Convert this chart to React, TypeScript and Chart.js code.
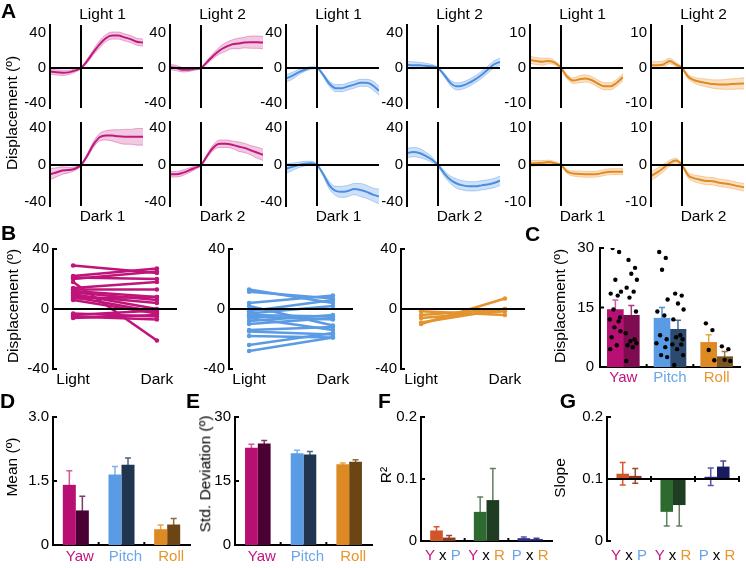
import { useEffect, useRef } from 'react';
import { Chart, registerables } from 'chart.js';

Chart.register(...registerables);

const FONT = '"Liberation Sans", Arial, Helvetica, sans-serif';

// ================= DATA =================
// Panel A: time (s) and mean / SEM of displacement
const timeA = [-1, -0.8, -0.6, -0.4, -0.2, 0, 0.2, 0.4, 0.6, 0.8, 1.0, 1.2, 1.4, 1.6, 1.8, 2.0];

const yawLight1 = [-4, -5, -5.5, -5, -3, 0, 8, 18, 27, 34, 37, 37, 35, 33, 30, 29];
const yawLight1Sem = [3, 3, 3, 2.5, 2, 1, 2, 3, 4, 4, 4, 4, 4, 4, 4, 4];
const yawLight2 = [1, 0, -2, -2, -1, 0, 7, 14, 20, 24, 27, 28, 29, 29.5, 29.5, 29];
const yawLight2Sem = [3, 3, 2.5, 2, 1.5, 1, 2, 3, 4, 5, 5, 6, 6, 7, 7, 7];
const pitchLight1 = [-12, -9, -5, -2, 0, 0, -8, -18, -23, -23, -21, -19, -17, -17, -20, -26];
const pitchLight1Sem = [4, 4, 3, 2, 1.5, 1, 2, 3, 4, 4, 4, 4, 4, 4, 5, 5];
const pitchLight2 = [3.5, 3, 3, 2.5, 2, 0, -8, -17, -21, -20, -17, -13, -8, -2, 4, 7];
const pitchLight2Sem = [4, 4, 3.5, 3, 2, 1, 2, 3, 4, 4, 4, 4, 4, 4, 4, 4];
const rollLight1 = [2.3, 2, 1.8, 2, 1.5, 0, -2.5, -3.6, -3.2, -3.0, -3.5, -4.5, -5.2, -5.2, -4.2, -2.6];
const rollLight1Sem = [1, 1, 1, 0.8, 0.6, 0.3, 0.6, 0.8, 1, 1, 1, 1, 1, 1, 1, 1];
const rollLight2 = [0.8, 0.8, 1, 2, 1, 0, -2.5, -3.5, -4, -4.3, -4.6, -4.7, -4.7, -4.6, -4.5, -4.4];
const rollLight2Sem = [1, 1, 1, 0.8, 0.6, 0.3, 0.6, 0.8, 1, 1.1, 1.2, 1.3, 1.4, 1.5, 1.5, 1.6];

const yawDark1 = [-10, -8, -6, -5.5, -4, 0, 10, 22, 30, 32, 32, 31, 30.5, 30.5, 30.5, 30.5];
const yawDark1Sem = [6, 5, 4, 3, 2, 1, 2, 3, 4, 5, 6, 7, 8, 8, 9, 9];
const yawDark2 = [-10, -10, -8.5, -6, -3, 0, 10, 19, 23, 23, 22, 20, 18.5, 16, 13.5, 11];
const yawDark2Sem = [3, 3, 3, 2.5, 2, 1, 2, 3, 4, 4, 4, 5, 5, 5, 6, 6];
const pitchDark1 = [-4, -2, 0, 1.5, 2, 0, -10, -22, -28, -29, -28, -26, -27, -29, -32, -34];
const pitchDark1Sem = [5, 4, 3, 2.5, 2, 1, 2, 4, 5, 6, 6, 6, 7, 7, 7, 8];
const pitchDark2 = [13, 14, 13, 10, 6, 0, -9, -16, -20, -22, -23, -23, -22, -21, -19.5, -17];
const pitchDark2Sem = [5, 5, 5, 4, 3, 1, 3, 4, 5, 5, 5, 5, 5, 5, 5, 5];
const rollDark1 = [0.4, 0.5, 0.6, 0.8, 0.5, 0, -1.8, -2.3, -2.4, -2.5, -2.5, -2.4, -2.0, -1.8, -1.8, -1.8];
const rollDark1Sem = [0.8, 0.7, 0.6, 0.5, 0.4, 0.2, 0.5, 0.7, 0.8, 0.8, 0.8, 0.8, 0.8, 0.8, 0.8, 0.8];
const rollDark2 = [-3, -2, -0.8, 0.5, 1.2, 0, -2.8, -3.6, -4, -4.3, -4.4, -4.8, -5, -5.3, -5.7, -6];
const rollDark2Sem = [1.2, 1.1, 1, 0.8, 0.6, 0.3, 0.7, 0.9, 1, 1, 1, 1, 1, 1, 1, 1];

const titlesTopA = ['Light 1', 'Light 2', 'Light 1', 'Light 2', 'Light 1', 'Light 2'];
const titlesBottomA = ['Dark 1', 'Dark 2', 'Dark 1', 'Dark 2', 'Dark 1', 'Dark 2'];
const ticksA = [-40, 0, 40];
const ticksARoll = [-10, 0, 10];

// Panel B: paired light / dark displacement per fish
const conditionLabels = ['Light', 'Dark'];
const yawLightB = [29, 22, 21, 20, 18, 14, 13, 12, 11, 10, 9, 8, 7, 6, -3, -4, -5, -6];
const yawDarkB = [24, 27, 20, 25, -21, 18, 13, 8, 6, 0, 4, -2, 8, -3, -5, -1, -7, -4];
const pitchLightB = [13, 11.5, 4, 2, -1.5, -3, -4, -5, -6, -8, -10, -14, -15, -18, -24, -28];
const pitchDarkB = [4, 7, 9, -11, 6, 2, -5, -7, -14, -4, -6, -12, -17, -19, -16, -19];
const rollLightB = [-1.5, -4, -6, -9, -10];
const rollDarkB = [-4, 0, -1.5, 0, 7];
const ticksB = [-40, 0, 40];

// Panel C
const axisNames = ['Yaw', 'Pitch', 'Roll'];
const dispLight = [14.5, 12.3, 6.2];
const dispLightErr = [2.4, 2.7, 1.9];
const dispDark = [13.0, 9.5, 2.6];
const dispDarkErr = [2.5, 2.3, 1.3];
const dotsYawLight = [30, 29, 22, 19, 18.5, 18, 14.5, 12.5, 12, 11.5, 10, 9, 7.5, 5.5, 4.5];
const dotsYawDark = [27, 25, 23.5, 22, 20, 19, 17.5, 14, 8.5, 7, 6.5, 6, 5.5, 5, 1.5];
const dotsPitchLight = [29, 27.5, 24.5, 17, 14, 13, 8, 7, 6, 5, 3, 2.5];
const dotsPitchDark = [18.5, 18, 16, 14.5, 12, 8, 7.5, 7, 5.7, 5.7, 4.5, 3, 0.5];
const dotsRollLight = [11, 9.3, 4.3, 1.7];
const dotsRollDark = [5.2, 4.5, 1.8, 1.5];
const dotJitter = [-0.06, 0.08, 0.0, 0.12, -0.1, 0.05, -0.04, 0.1, -0.12, 0.07, -0.02, 0.11, -0.08, 0.03, -0.11];
const ticksC = [0, 15, 30];

// Panel D
const meanLight = [1.41, 1.65, 0.37];
const meanLightErr = [0.33, 0.19, 0.1];
const meanDark = [0.81, 1.88, 0.48];
const meanDarkErr = [0.33, 0.16, 0.14];
const ticksD = [0, 1.5, 3];
const tickLabelsD = ['0', '1.5', '3.0'];

// Panel E
const sdLight = [22.8, 21.5, 18.9];
const sdLightErr = [0.8, 0.7, 0.3];
const sdDark = [23.8, 21.2, 19.5];
const sdDarkErr = [0.7, 0.7, 0.5];
const ticksE = [0, 15, 30];

// Panel F / G
const pairNames = [['Y', 'P'], ['Y', 'R'], ['P', 'R']];
const r2Light = [0.017, 0.047, 0.0045];
const r2LightErr = [0.006, 0.024, 0.002];
const r2Dark = [0.0055, 0.066, 0.003];
const r2DarkErr = [0.0032, 0.051, 0.0015];
const slopeBase = 0.1;
const slopeLight = [0.1085, 0.047, 0.1036];
const slopeLightErr = [0.018, 0.023, 0.014];
const slopeDark = [0.105, 0.058, 0.12];
const slopeDarkErr = [0.012, 0.034, 0.009];
const ticksFG = [0, 0.1, 0.2];
const tickLabelsFG = ['0', '0.1', '0.2'];

// ================= STYLES =================
const TXT_YAW = '#C0157F';
const TXT_PITCH = '#6AA5EA';
const TXT_ROLL = '#E8952C';
const letterColors: Record<string, string> = { Y: TXT_YAW, P: TXT_PITCH, R: TXT_ROLL };
const axisTextColors = [TXT_YAW, TXT_PITCH, TXT_ROLL];

const A_COLORS: Record<string, { line: string; band: string; edge: string }> = {
  yaw: { line: '#C2177F', band: 'rgba(214, 90, 165, 0.33)', edge: 'rgba(214, 90, 165, 0.5)' },
  pitch: { line: '#4A8EDF', band: 'rgba(110, 165, 235, 0.33)', edge: 'rgba(110, 165, 235, 0.5)' },
  roll: { line: '#E08A22', band: 'rgba(240, 165, 80, 0.33)', edge: 'rgba(240, 165, 80, 0.5)' },
};
const B_COLORS = { yaw: '#BF1479', pitch: '#5B9BE4', roll: '#E3942F' };

const barLightC = ['#B80F72', '#5A9BE6', '#DE8A24'];
const barDarkC = ['#7D0C50', '#2B4A6E', '#7B551F'];
const errLightC = ['#D65AA0', '#4C8FDE', '#E9A448'];
const errDarkC = ['#A53C7C', '#4A6A90', '#9C7638'];
const barDarkDE = ['#4B0034', '#1F3550', '#6B4514'];
const errLightDE = ['#D35A9D', '#7EB2EC', '#E9A448'];
const errDarkDE = ['#7B3B63', '#4D6480', '#8D6D3D'];
const barLightFG = ['#D2552A', '#2E6A30', '#29298C'];
const barDarkFG = ['#8C3A1F', '#1E3D22', '#1A1A60'];
const errLightFG = ['#D9572C', '#5F7F5F', '#5555AA'];
const errDarkFG = ['#9C4A30', '#5F7F5F', '#4545A0'];

// ================= LAYOUT =================
type Area = { l: number; t: number; r: number; b: number };
const PAD_T = 16;
const PAD_R = 4;
const YW = 40;
const colLeftA = [50, 170, 286, 407, 530, 651];
const widthA = 93;
const rowTopA = [25, 122];
const rowBottomA = [108, 206];
const rowRangeA = [[-45.7, 49.1], [-44.3, 46.5]];
const groupBounds = [0.5, 1.5];

// ================= PLUGIN =================
type ErrSpec = { ds: number; vals: number[]; errs: number[]; colors: string[]; both?: boolean };
type Deco = {
  zeroY?: number; vX?: number; leftLine?: boolean; inTicks?: number[]; xBounds?: number[];
  baseY?: number; err?: ErrSpec[]; multi?: string[][]; multiDy?: number;
};

function deco(d: Deco) {
  return {
    id: 'deco',
    beforeDatasetsDraw(chart: any) {
      const ctx = chart.ctx;
      const ys = chart.scales.y;
      for (const e of d.err || []) {
        const meta = chart.getDatasetMeta(e.ds);
        meta.data.forEach((el: any, j: number) => {
          const x = el.x;
          const y1 = ys.getPixelForValue(e.vals[j] + e.errs[j]);
          const y2 = ys.getPixelForValue(e.vals[j] - e.errs[j]);
          ctx.save();
          ctx.strokeStyle = e.colors[j];
          ctx.lineWidth = 1.5;
          ctx.beginPath();
          ctx.moveTo(x, y1); ctx.lineTo(x, y2);
          ctx.moveTo(x - 3, y1); ctx.lineTo(x + 3, y1);
          if (e.both) { ctx.moveTo(x - 3, y2); ctx.lineTo(x + 3, y2); }
          ctx.stroke();
          ctx.restore();
        });
      }
    },
    afterDatasetsDraw(chart: any) {
      const ctx = chart.ctx;
      const a = chart.chartArea;
      const xs = chart.scales.x;
      const ys = chart.scales.y;
      ctx.save();
      ctx.strokeStyle = '#000';
      ctx.lineWidth = 2;
      const line = (x1: number, y1: number, x2: number, y2: number) => {
        ctx.beginPath(); ctx.moveTo(x1, y1); ctx.lineTo(x2, y2); ctx.stroke();
      };
      if (d.zeroY !== undefined) { const y = ys.getPixelForValue(d.zeroY); line(a.left, y, a.right, y); }
      if (d.vX !== undefined) { const x = xs.getPixelForValue(d.vX); line(x, a.top, x, a.bottom); }
      if (d.leftLine) line(a.left, a.top, a.left, a.bottom);
      for (const v of d.inTicks || []) { const y = ys.getPixelForValue(v); line(a.left, y, a.left + 4, y); }
      if (d.xBounds && d.baseY === undefined) {
        d.xBounds.forEach((v) => { const x = xs.getPixelForValue(v); line(x, a.bottom, x, a.bottom - 3); });
      }
      if (d.baseY !== undefined) {
        const y = ys.getPixelForValue(d.baseY);
        line(a.left, y, a.right, y);
        const bx = (d.xBounds || []).map((v) => xs.getPixelForValue(v));
        bx.push(a.right);
        bx.forEach((x) => line(x, y - 3, x, y + 3));
      }
      if (d.multi) {
        ctx.font = `15px ${FONT}`;
        ctx.textBaseline = 'middle';
        ctx.textAlign = 'left';
        d.multi.forEach((pair, i) => {
          const parts = [pair[0], ' x ', pair[1]];
          const cols = [letterColors[pair[0]], '#000', letterColors[pair[1]]];
          const widths = parts.map((p) => ctx.measureText(p).width);
          let x = xs.getPixelForValue(i) - widths.reduce((s, w) => s + w, 0) / 2;
          const y = a.bottom + (d.multiDy || 15);
          parts.forEach((p, k) => { ctx.fillStyle = cols[k]; ctx.fillText(p, x, y); x += widths[k]; });
        });
      }
      ctx.restore();
    },
  };
}

// ================= HELPERS =================
function baseOptions(pb: number) {
  return {
    responsive: false,
    maintainAspectRatio: false,
    animation: false,
    events: [],
    layout: { padding: { top: PAD_T, right: PAD_R, bottom: pb, left: 0 } },
    plugins: { legend: { display: false }, tooltip: { enabled: false }, title: { display: false } },
  };
}

function yScale(min: number, max: number, ticks: number[], labels: string[], pad = 4) {
  return {
    type: 'linear',
    position: 'left',
    min,
    max,
    afterBuildTicks: (s: any) => { s.ticks = ticks.map((v) => ({ value: v })); },
    afterFit: (s: any) => { s.width = YW; },
    grid: { display: false, drawTicks: false, tickLength: 0 },
    border: { display: true, color: '#000', width: 2 },
    ticks: { padding: pad, color: '#000', font: { size: 15, family: FONT }, callback: (_v: any, i: number) => labels[i] },
  };
}

function xCat(xh: number, pad: number, labelOffset: number, showLabels: boolean, border: boolean) {
  return {
    type: 'category',
    offset: true,
    afterFit: (s: any) => { s.height = xh; },
    grid: { display: false, offset: true, drawTicks: false, tickLength: 0 },
    border: { display: border, color: '#000', width: 2 },
    ticks: {
      display: showLabels, padding: pad, labelOffset, color: axisTextColors,
      font: { size: 15, family: FONT }, maxRotation: 0, minRotation: 0, autoSkip: false,
    },
  };
}

type Spec = { area: Area; xh: number; pb: number; make: () => any };

function specA(mean: number[], sem: number[], kind: string, row: number, col: number): Spec {
  const area = { l: colLeftA[col], t: rowTopA[row], r: colLeftA[col] + widthA, b: rowBottomA[row] };
  return {
    area, xh: 0, pb: 16,
    make: () => {
      const c = A_COLORS[kind];
      const f = kind === 'roll' ? 0.25 : 1;
      const [mn, mx] = rowRangeA[row];
      const pts = (arr: number[]) => arr.map((v, i) => ({ x: timeA[i], y: v }));
      const upper = mean.map((v, i) => v + sem[i]);
      const lower = mean.map((v, i) => v - sem[i]);
      const tk = kind === 'roll' ? ticksARoll : ticksA;
      const common = { pointRadius: 0, cubicInterpolationMode: 'monotone' };
      return {
        type: 'line',
        data: {
          datasets: [
            { data: pts(mean), borderColor: c.line, borderWidth: 2, fill: false, ...common },
            { data: pts(upper), borderColor: c.edge, borderWidth: 1, fill: '+1', backgroundColor: c.band, ...common },
            { data: pts(lower), borderColor: c.edge, borderWidth: 1, fill: false, ...common },
          ],
        },
        options: {
          ...baseOptions(16),
          scales: {
            x: { type: 'linear', min: -1, max: 2, display: false },
            y: yScale(mn * f, mx * f, tk, tk.map(String)),
          },
        },
        plugins: [deco({ zeroY: 0, vX: 0, leftLine: true })],
      };
    },
  };
}

function specB(light: number[], dark: number[], color: string, left: number): Spec {
  const area = { l: left, t: 249, r: left + 124, b: 369 };
  return {
    area, xh: 30, pb: 2,
    make: () => ({
      type: 'scatter',
      data: {
        datasets: light.map((v, i) => ({
          data: [{ x: 0, y: v }, { x: 1, y: dark[i] }],
          showLine: true, borderColor: color, backgroundColor: color, borderWidth: 2.6,
          pointRadius: 2.3, pointBorderWidth: 0,
        })),
      },
      options: {
        ...baseOptions(2),
        scales: {
          x: {
            type: 'linear', min: -0.24, max: 1.24,
            afterBuildTicks: (s: any) => { s.ticks = [{ value: 0 }, { value: 1 }]; },
            afterFit: (s: any) => { s.height = 30; },
            grid: { display: false, drawTicks: false, tickLength: 0 },
            border: { display: false },
            ticks: { padding: 1.5, maxRotation: 0, minRotation: 0, color: '#000', font: { size: 15.5, family: FONT }, callback: (_v: any, i: number) => conditionLabels[i] },
          },
          y: yScale(-40, 40, ticksB, ticksB.map(String)),
        },
      },
      plugins: [deco({ zeroY: 0, inTicks: ticksB })],
    }),
  };
}

const specC: Spec = {
  area: { l: 600, t: 248, r: 740, b: 367 }, xh: 30, pb: 2,
  make: () => {
    const off = 0.171;
    const groups = [
      [dotsYawLight, dotsYawDark],
      [dotsPitchLight, dotsPitchDark],
      [dotsRollLight, dotsRollDark],
    ];
    const dots: { x: number; y: number }[] = [];
    groups.forEach((pair, g) => {
      pair.forEach((arr, s) => {
        arr.forEach((v, k) => dots.push({ x: g + (s === 0 ? -off : off) + dotJitter[k % dotJitter.length], y: v }));
      });
    });
    return {
      type: 'bar',
      data: {
        datasets: [
          { type: 'scatter', data: dots, pointRadius: 2.2, backgroundColor: '#000', borderWidth: 0, order: -1 },
          { type: 'bar', data: dispLight.map((v, g) => ({ x: g - off, y: v })), backgroundColor: barLightC, barThickness: 16, grouped: false, borderWidth: 0, order: 1 },
          { type: 'bar', data: dispDark.map((v, g) => ({ x: g + off, y: v })), backgroundColor: barDarkC, barThickness: 16, grouped: false, borderWidth: 0, order: 1 },
        ],
      },
      options: {
        ...baseOptions(2),
        scales: {
          x: {
            type: 'linear', min: -0.5, max: 2.5, offset: false,
            afterBuildTicks: (s: any) => { s.ticks = axisNames.map((_n, i) => ({ value: i })); },
            afterFit: (s: any) => { s.height = 30; },
            grid: { display: false, offset: false, drawTicks: false, tickLength: 0 },
            border: { display: true, color: '#000', width: 2 },
            ticks: { padding: 1.5, maxRotation: 0, minRotation: 0, autoSkip: false, color: axisTextColors, font: { size: 15, family: FONT }, callback: (_v: any, i: number) => axisNames[i] },
          },
          y: yScale(0, 30, ticksC, ticksC.map(String), 6),
        },
      },
      plugins: [deco({
        inTicks: ticksC, xBounds: groupBounds,
        err: [
          { ds: 1, vals: dispLight, errs: dispLightErr, colors: errLightC },
          { ds: 2, vals: dispDark, errs: dispDarkErr, colors: errDarkC },
        ],
      })],
    };
  },
};

function specBars(area: Area, light: number[], lightErr: number[], dark: number[], darkErr: number[],
  barDark: string[], errDark: string[], ticks: number[], labels: string[], max: number, cp: number, labelOffset: number): Spec {
  return {
    area, xh: 30, pb: 2,
    make: () => ({
      type: 'bar',
      data: {
        labels: axisNames,
        datasets: [
          { data: light, backgroundColor: barLightC, categoryPercentage: cp, barPercentage: 1, borderWidth: 0 },
          { data: dark, backgroundColor: barDark, categoryPercentage: cp, barPercentage: 1, borderWidth: 0 },
        ],
      },
      options: {
        ...baseOptions(2),
        scales: { x: xCat(30, 2.7, labelOffset, true, true), y: yScale(0, max, ticks, labels) },
      },
      plugins: [deco({
        inTicks: ticks, xBounds: groupBounds,
        err: [
          { ds: 0, vals: light, errs: lightErr, colors: errLightDE },
          { ds: 1, vals: dark, errs: darkErr, colors: errDark },
        ],
      })],
    }),
  };
}

const specF: Spec = {
  area: { l: 421, t: 417, r: 552, b: 541 }, xh: 30, pb: 2,
  make: () => ({
    type: 'bar',
    data: {
      labels: pairNames.map((p) => p.join('x')),
      datasets: [
        { data: r2Light, backgroundColor: barLightFG, categoryPercentage: 0.58, barPercentage: 1, borderWidth: 0 },
        { data: r2Dark, backgroundColor: barDarkFG, categoryPercentage: 0.58, barPercentage: 1, borderWidth: 0 },
      ],
    },
    options: {
      ...baseOptions(2),
      scales: { x: xCat(30, 2, 0, false, true), y: yScale(0, 0.2, ticksFG, tickLabelsFG) },
    },
    plugins: [deco({
      inTicks: ticksFG, xBounds: groupBounds, multi: pairNames, multiDy: 15,
      err: [
        { ds: 0, vals: r2Light, errs: r2LightErr, colors: errLightFG },
        { ds: 1, vals: r2Dark, errs: r2DarkErr, colors: errDarkFG },
      ],
    })],
  }),
};

const specG: Spec = {
  area: { l: 607, t: 417, r: 739, b: 541 }, xh: 30, pb: 2,
  make: () => ({
    type: 'bar',
    data: {
      labels: pairNames.map((p) => p.join('x')),
      datasets: [
        { data: slopeLight.map((v) => [slopeBase, v]), backgroundColor: barLightFG, categoryPercentage: 0.57, barPercentage: 1, borderWidth: 0 },
        { data: slopeDark.map((v) => [slopeBase, v]), backgroundColor: barDarkFG, categoryPercentage: 0.57, barPercentage: 1, borderWidth: 0 },
      ],
    },
    options: {
      ...baseOptions(2),
      scales: { x: xCat(30, 2, 0, false, false), y: yScale(0, 0.2, ticksFG, tickLabelsFG) },
    },
    plugins: [deco({
      inTicks: ticksFG, baseY: slopeBase, xBounds: groupBounds, multi: pairNames, multiDy: 15,
      err: [
        { ds: 0, vals: slopeLight, errs: slopeLightErr, colors: errLightFG, both: true },
        { ds: 1, vals: slopeDark, errs: slopeDarkErr, colors: errDarkFG, both: true },
      ],
    })],
  }),
};

const SPECS: Spec[] = [
  specA(yawLight1, yawLight1Sem, 'yaw', 0, 0),
  specA(yawLight2, yawLight2Sem, 'yaw', 0, 1),
  specA(pitchLight1, pitchLight1Sem, 'pitch', 0, 2),
  specA(pitchLight2, pitchLight2Sem, 'pitch', 0, 3),
  specA(rollLight1, rollLight1Sem, 'roll', 0, 4),
  specA(rollLight2, rollLight2Sem, 'roll', 0, 5),
  specA(yawDark1, yawDark1Sem, 'yaw', 1, 0),
  specA(yawDark2, yawDark2Sem, 'yaw', 1, 1),
  specA(pitchDark1, pitchDark1Sem, 'pitch', 1, 2),
  specA(pitchDark2, pitchDark2Sem, 'pitch', 1, 3),
  specA(rollDark1, rollDark1Sem, 'roll', 1, 4),
  specA(rollDark2, rollDark2Sem, 'roll', 1, 5),
  specB(yawLightB, yawDarkB, B_COLORS.yaw, 53),
  specB(pitchLightB, pitchDarkB, B_COLORS.pitch, 229),
  specB(rollLightB, rollDarkB, B_COLORS.roll, 401),
  specC,
  specBars({ l: 53, t: 417, r: 190, b: 545 }, meanLight, meanLightErr, meanDark, meanDarkErr, barDarkDE, errDarkDE, ticksD, tickLabelsD, 3, 0.57, 4),
  specBars({ l: 235, t: 417, r: 372, b: 545 }, sdLight, sdLightErr, sdDark, sdDarkErr, barDarkDE, errDarkDE, ticksE, ticksE.map(String), 30, 0.56, 4),
  specF,
  specG,
];

function frameOf(s: Spec) {
  const a = s.area;
  return {
    left: a.l - YW,
    top: a.t - PAD_T,
    width: YW + (a.r - a.l) + PAD_R,
    height: PAD_T + (a.b - a.t) + s.xh + s.pb,
  };
}

type TextSpec = { x: number; y: number; s: string; size?: number; bold?: boolean; rot?: boolean };
const TEXTS: TextSpec[] = [
  { x: 8.5, y: 9.5, s: 'A', size: 21, bold: true },
  { x: 8.5, y: 232, s: 'B', size: 21, bold: true },
  { x: 532.5, y: 233, s: 'C', size: 21, bold: true },
  { x: 7.5, y: 400, s: 'D', size: 21, bold: true },
  { x: 193, y: 400, s: 'E', size: 21, bold: true },
  { x: 384.5, y: 400, s: 'F', size: 21, bold: true },
  { x: 568, y: 400, s: 'G', size: 21, bold: true },
  { x: 12, y: 113, s: 'Displacement (º)', size: 15.5, rot: true },
  { x: 12.5, y: 306, s: 'Displacement (º)', size: 15.5, rot: true },
  { x: 559.5, y: 306, s: 'Displacement (º)', size: 15.5, rot: true },
  { x: 12, y: 466.5, s: 'Mean (º)', size: 15.5, rot: true },
  { x: 204.8, y: 474, s: 'Std. Deviation (º)', size: 15.5, rot: true },
  { x: 385.5, y: 475, s: 'R²', size: 15.5, rot: true },
  { x: 559.5, y: 478, s: 'Slope', size: 15.5, rot: true },
  ...titlesTopA.map((t, i) => ({ x: colLeftA[i] + widthA / 2 + 6, y: 13.5, s: t, size: 15.5 })),
  ...titlesBottomA.map((t, i) => ({ x: colLeftA[i] + widthA / 2 + 6, y: 215.5, s: t, size: 15.5 })),
];

export default function App() {
  const refs = useRef<(HTMLCanvasElement | null)[]>([]);
  useEffect(() => {
    const charts = SPECS.map((s, i) => new Chart(refs.current[i] as HTMLCanvasElement, s.make()));
    return () => charts.forEach((c) => c.destroy());
  }, []);
  return (
    <div style={{ position: 'absolute', left: 0, top: 0, width: 746, height: 568, background: '#fff', overflow: 'hidden', fontFamily: FONT }}>
      {SPECS.map((s, i) => {
        const f = frameOf(s);
        return (
          <canvas
            key={i}
            ref={(el) => { refs.current[i] = el; }}
            width={f.width}
            height={f.height}
            style={{ position: 'absolute', left: f.left, top: f.top, width: f.width, height: f.height }}
          />
        );
      })}
      {TEXTS.map((t, i) => (
        <div
          key={'t' + i}
          style={{
            position: 'absolute', left: t.x, top: t.y,
            transform: `translate(-50%, -50%)${t.rot ? ' rotate(-90deg)' : ''}`,
            fontSize: t.size || 15, fontWeight: t.bold ? 'bold' : 'normal', color: '#000',
            lineHeight: 1, whiteSpace: 'nowrap', fontFamily: FONT,
          }}
        >
          {t.s}
        </div>
      ))}
    </div>
  );
}
